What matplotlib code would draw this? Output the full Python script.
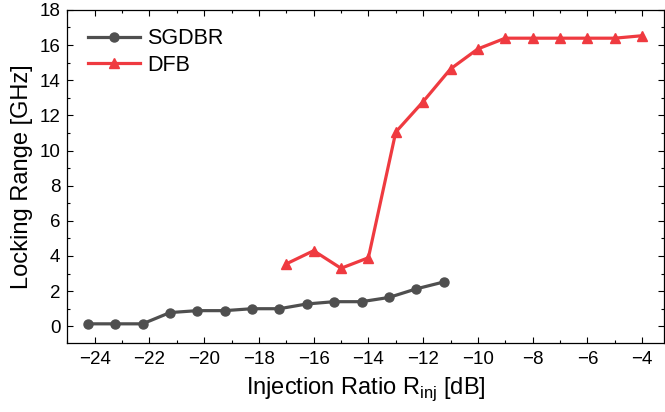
import matplotlib
matplotlib.use('Agg')
import matplotlib.pyplot as plt
from matplotlib.ticker import MultipleLocator

plt.rcParams['font.family'] = ['Liberation Sans', 'DejaVu Sans']

# SGDBR data
sgdbr_x = [-24.25, -23.25, -22.25, -21.25, -20.25, -19.25, -18.25,
           -17.25, -16.25, -15.25, -14.25, -13.25, -12.25, -11.25]
sgdbr_y = [0.14, 0.14, 0.14, 0.78, 0.89, 0.89, 1.0,
           1.0, 1.27, 1.4, 1.4, 1.64, 2.13, 2.52]

# DFB data
dfb_x = [-17, -16, -15, -14, -13, -12, -11, -10, -9, -8, -7, -6, -5, -4]
dfb_y = [3.55, 4.3, 3.3, 3.9, 11.05, 12.78, 14.64, 15.78,
         16.39, 16.39, 16.39, 16.39, 16.39, 16.53]

fig = plt.figure(figsize=(6.65, 4.12), dpi=100)
ax = fig.add_axes([0.1012, 0.1675, 0.8973, 0.8085])

ax.plot(sgdbr_x, sgdbr_y, color='#4f4f4f', lw=2.3, marker='o', ms=6.5,
        label='SGDBR')
ax.plot(dfb_x, dfb_y, color='#ef3a40', lw=2.3, marker='^', ms=7.5,
        label='DFB')

ax.set_xlim(-25, -3.2)
ax.set_ylim(-0.95, 18)
ax.xaxis.set_major_locator(MultipleLocator(2))
ax.xaxis.set_minor_locator(MultipleLocator(1))
ax.yaxis.set_major_locator(MultipleLocator(2))
ax.yaxis.set_minor_locator(MultipleLocator(1))
ax.tick_params(which='both', direction='in', top=True, right=True,
               labelsize=13.5, width=0.8)
ax.tick_params(which='major', length=4.5)
ax.tick_params(axis='x', which='major', pad=6)
ax.tick_params(axis='y', which='major', pad=5)
ax.tick_params(which='minor', length=2.5)
for s in ax.spines.values():
    s.set_linewidth(0.9)

ax.set_xlabel(r'Injection Ratio R$_{\mathregular{inj}}$ [dB]', fontsize=17,
              labelpad=5)
ax.set_ylabel('Locking Range [GHz]', fontsize=17, labelpad=5)

ax.legend(loc='upper left', frameon=False, fontsize=15.5, handlelength=2.4,
          handletextpad=0.35, labelspacing=0.25, borderaxespad=0.3,
          bbox_to_anchor=(0.01, 0.99))

fig.savefig('out.png', dpi=100)
